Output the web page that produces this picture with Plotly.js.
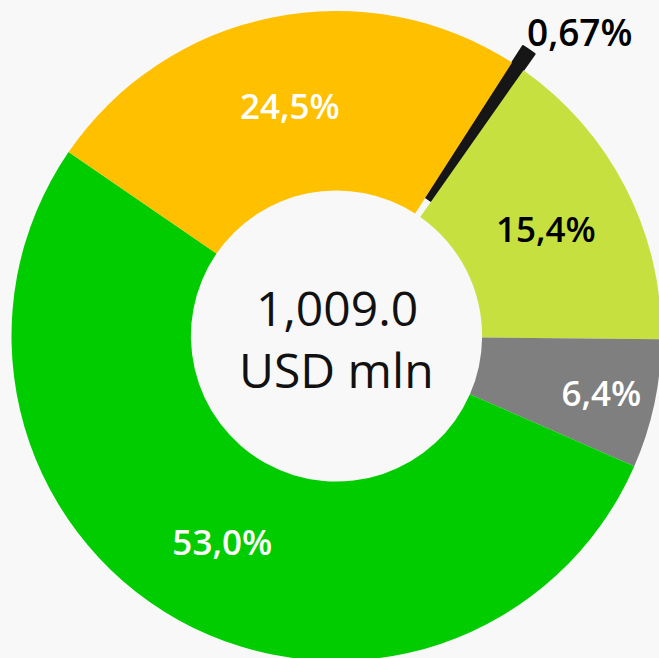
<!DOCTYPE html>
<html>
<head>
<meta charset="utf-8">
<script src="https://cdn.plot.ly/plotly-3.0.1.min.js"></script>
<style>
  html, body { margin: 0; padding: 0; background: #f8f8f8; overflow: hidden; width: 659px; height: 658px; }
  #chart { position: absolute; left: -20px; top: -20px; width: 720px; height: 720px; }
</style>
</head>
<body>
<div id="chart"></div>
<script>
// Data (shares of total, %), clockwise starting at the pulled-out slice
const categories = ['Category A', 'Category B', 'Category C', 'Category D', 'Category E'];
const shares = [0.67, 15.4, 6.4, 53.0, 24.5];
const shareLabels = ['0,67%', '15,4%', '6,4%', '53,0%', '24,5%'];
const sliceColors = ['#161616', '#c6e03f', '#7f7f7f', '#00cc00', '#ffc000'];
const labelColors = ['#000000', '#000000', '#ffffff', '#ffffff', '#ffffff'];
const pulls = [0.06, 0, 0, 0, 0];
const totalLine1 = '1,009.0';
const totalLine2 = 'USD mln';

// inside labels drawn by the pie; the small pulled slice gets its label as an annotation
const insideText = shareLabels.map((t, i) => (i === 0 ? '' : t));

const trace = {
  type: 'pie',
  labels: categories,
  values: shares,
  text: insideText,
  textinfo: 'text',
  textposition: 'inside',
  insidetextorientation: 'horizontal',
  sort: false,
  direction: 'clockwise',
  rotation: 32.7,
  hole: 0.448,
  pull: pulls,
  marker: {
    colors: sliceColors,
    line: { width: [2.5, 0, 0, 0, 0], color: sliceColors }
  },
  insidetextfont: { family: 'Open Sans', size: 35, color: labelColors, weight: 600 },
  domain: { x: [12/720, 701/720], y: [1 - 700.5/720, 1 - 11.5/720] },
  showlegend: false,
  hoverinfo: 'none'
};

const layout = {
  width: 720,
  height: 720,
  margin: { l: 0, r: 0, t: 0, b: 0 },
  paper_bgcolor: '#f8f8f8',
  plot_bgcolor: '#f8f8f8',
  showlegend: false,
  annotations: [
    { text: totalLine1, x: 356.5/720, y: 1 - 328/720, xref: 'paper', yref: 'paper', showarrow: false,
      font: { family: 'Open Sans', size: 48, color: '#111111' }, xanchor: 'center', yanchor: 'middle' },
    { text: totalLine2, x: 356.5/720, y: 1 - 389/720, xref: 'paper', yref: 'paper', showarrow: false,
      font: { family: 'Open Sans', size: 48, color: '#111111' }, xanchor: 'center', yanchor: 'middle' },
    { text: shareLabels[0], x: 600/720, y: 1 - 52/720, xref: 'paper', yref: 'paper', showarrow: false,
      font: { family: 'Open Sans', size: 37, color: labelColors[0], weight: 600 }, xanchor: 'center', yanchor: 'middle' }
  ]
};

Plotly.newPlot('chart', [trace], layout, { displayModeBar: false, staticPlot: true });
</script>
</body>
</html>
